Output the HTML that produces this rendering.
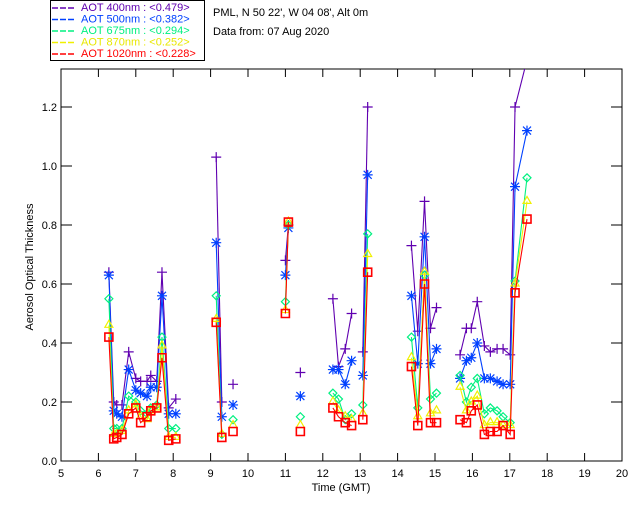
<!DOCTYPE html>
<html><head><meta charset="utf-8"><style>
body{margin:0;background:#fff;}
svg{display:block;font-family:"Liberation Sans",sans-serif;font-size:11px;}
</style></head><body>
<svg id="c" width="640" height="512" viewBox="0 0 640 512">
<defs><clipPath id="pc"><rect x="61" y="69" width="561" height="392"/></clipPath></defs>
<g id="legend">
<rect x="50.5" y="0.5" width="154" height="60" fill="#fff" stroke="#000"/>
</g>
<text x="213" y="16">PML, N 50 22', W 04 08', Alt 0m</text>
<text x="213" y="35">Data from: 07 Aug 2020</text>
<g id="axes"></g>
<g id="plot" clip-path="url(#pc)"></g>
<text x="341" y="491" text-anchor="middle">Time (GMT)</text>
<text transform="translate(33,267) rotate(-90)" text-anchor="middle">Aerosol Optical Thickness</text>
</svg>
<script>
const groups = [
 [6.28,6.41,6.49,6.63,6.81,7.0,7.13,7.3,7.4,7.56,7.7,7.88,8.07],
 [9.15,9.3],
 [9.6],
 [11.0,11.08],
 [11.4],
 [12.27,12.42,12.6,12.77],
 [13.07,13.2],
 [14.37,14.54,14.72,14.88,15.04],
 [15.67,15.84,15.97,16.13,16.32,16.48,16.66,16.82,17.01,17.14,17.46]
];
const aot400 = [
 [.64,.20,.19,.19,.37,.28,.27,.27,.29,.27,.64,.18,.21],[1.03,.20],[.26],[.68,.80],[.30],
 [.55,.32,.38,.50],[.37,1.2],[.73,.44,.88,.45,.52],[.36,.45,.45,.54,.39,.37,.38,.38,.36,1.2,1.36]];
const aot500 = [
 [.63,.17,.16,.15,.31,.24,.23,.22,.25,.25,.56,.16,.16],[.74,.15],[.19],[.63,.79],[.22],
 [.31,.31,.26,.34],[.29,.97],[.56,.33,.76,.33,.38],[.28,.34,.35,.40,.28,.28,.27,.26,.26,.93,1.12]];
const aot675 = [
 [.55,.11,.11,.11,.22,.20,.17,.16,.18,.19,.42,.11,.11],[.56,.09],[.14],[.54,.80],[.15],
 [.23,.21,.14,.16],[.19,.77],[.42,.18,.63,.21,.23],[.29,.20,.25,.28,.16,.18,.17,.15,.13,.61,.96]];
const aot870 = [
 [.46,.09,.09,.10,.17,.19,.15,.14,.17,.18,.39,.08,.08],[.48,.09],[.12],[.51,.81],[.12],
 [.20,.17,.15,.14],[.16,.70],[.35,.15,.64,.16,.17],[.25,.17,.20,.22,.12,.13,.13,.12,.12,.60,.88]];
const aot1020 = [
 [.42,.075,.08,.09,.16,.18,.13,.15,.17,.18,.35,.07,.075],[.47,.08],[.10],[.50,.81],[.10],
 [.18,.15,.13,.12],[.14,.64],[.32,.12,.60,.13,.13],[.14,.13,.17,.19,.09,.10,.10,.12,.09,.57,.82]];
const xTicks = [5,6,7,8,9,10,11,12,13,14,15,16,17,18,19,20];
const yTicks = [0.0,0.2,0.4,0.6,0.8,1.0,1.2];
const legendNames = ["AOT  400nm : <0.479>","AOT  500nm : <0.382>","AOT  675nm : <0.294>","AOT  870nm : <0.252>","AOT 1020nm : <0.228>"];
const NS="http://www.w3.org/2000/svg";
const X0=61,X1=622,Y0=461,Y1=69;
const xs=t=>X0+(t-5)*(X1-X0)/15;
const ys=v=>Y0-v*(Y0-107)/1.2;
function mk(tag,at,par){const e=document.createElementNS(NS,tag);for(const k in at)e.setAttribute(k,at[k]);par.appendChild(e);return e;}
const ax=document.getElementById('axes');
const box=mk('rect',{x:X0,y:Y1,width:X1-X0,height:Y0-Y1,fill:'none',stroke:'#000','stroke-width':1},ax);


xTicks.forEach(t=>{
 const x=xs(t);
 const a=mk('line',{x1:x,x2:x,y1:Y0,y2:Y0-8,stroke:'#000'},ax);
 
 
 const b=mk('line',{x1:x,x2:x,y1:Y1,y2:Y1+8,stroke:'#000'},ax);
 
 
 const l=mk('text',{x:x,y:477,'text-anchor':'middle'},ax);l.textContent=t;
 
 
});
yTicks.forEach(v=>{
 const y=ys(v);
 const a=mk('line',{x1:X0,x2:X0+11,y1:y,y2:y,stroke:'#000'},ax);
 
 
 const b=mk('line',{x1:X1,x2:X1-11,y1:y,y2:y,stroke:'#000'},ax);
 
 
 const l=mk('text',{x:57,y:y+4,'text-anchor':'end'},ax);l.textContent=v.toFixed(1);
 
 
});
const series=[
 {d:aot400,c:'#6000b0',m:'plus',n:'aot-400'},
 {d:aot500,c:'#0040ff',m:'star',n:'aot-500'},
 {d:aot675,c:'#00f080',m:'diamond',n:'aot-675'},
 {d:aot870,c:'#f0f000',m:'tri',n:'aot-870'},
 {d:aot1020,c:'#ff0000',m:'square',n:'aot-1020'}];
const plot=document.getElementById('plot');
function marker(m,x,y,c,g){
 let p='';
 if(m==='plus')p=`M${x-5},${y}h10M${x},${y-5}v10`;
 else if(m==='star')p=`M${x-5},${y}h10M${x},${y-5}v10M${x-4},${y-4}l8,8M${x-4},${y+4}l8,-8`;
 else if(m==='diamond')p=`M${x},${y-4}l4,4l-4,4l-4,-4z`;
 else if(m==='tri')p=`M${x},${y-5}l4,7h-8z`;
 else p=`M${x-4},${y-4}h8v8h-8z`;
 const e=mk('path',{d:p,fill:'none',stroke:c,'stroke-width':m==='square'?1.6:1.2},g);
 
 
}
series.forEach(s=>{
 const g=mk('g',{},plot);
 
 
 groups.forEach((ts,gi)=>{
  const pts=ts.map((t,i)=>[xs(t),ys(s.d[gi][i])]);
  if(pts.length>1){
   const l=mk('polyline',{points:pts.map(p=>p.join(',')).join(' '),fill:'none',stroke:s.c,'stroke-width':1.1},g);
   
   
  }
  pts.forEach(p=>marker(s.m,p[0],p[1],s.c,g));
 });
});
const lg=document.getElementById('legend');
legendNames.forEach((n,i)=>{
 const y=11+i*11.5;
 const s=series[i];
 const l=mk('line',{x1:52,x2:76,y1:y-3,y2:y-3,stroke:s.c,'stroke-width':1.5,'stroke-dasharray':'6,2'},lg);
 
 
 const t=mk('text',{x:81,y:y,fill:s.c==='#f0f000'?'#e8e800':s.c,'xml:space':'preserve'},lg);
 t.textContent=n;
 
 
});
</script>
</body></html>
